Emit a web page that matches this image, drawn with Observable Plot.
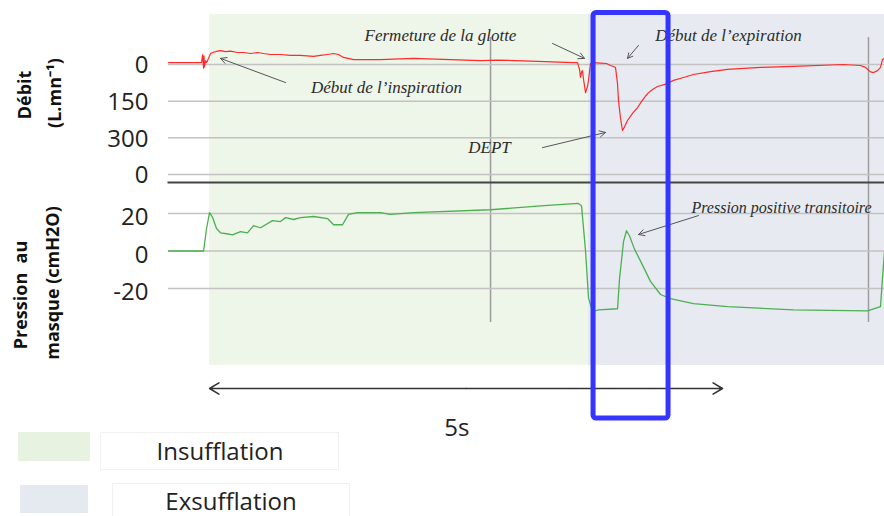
<!DOCTYPE html>
<html>
<head>
<meta charset="utf-8">
<script src="https://cdn.jsdelivr.net/npm/d3@7"></script>
<script src="https://cdn.jsdelivr.net/npm/@observablehq/plot@0.6"></script>
<style>
  body { margin: 0; background: #fff; }
  #fig { position: relative; width: 884px; height: 516px; overflow: hidden; font-family: "Open Sans", sans-serif; background: #fff; }
  #fig svg { position: absolute; left: 0; top: 0; background: transparent; }
  .ylab { position: absolute; font-weight: bold; font-size: 18px; white-space: pre; line-height: 1; color: #111;
          transform: translate(-50%, -50%) rotate(-90deg); }
  .sw { position: absolute; }
  .box { position: absolute; border: 1px solid #f1f1f1; }
  .lt { position: absolute; font-size: 24px; line-height: 1; color: #222; white-space: nowrap; transform: translate(-50%, -50%); }
</style>
</head>
<body>
<div id="fig"></div>
<script>
// ---------- data ----------
// time in seconds (0 = start of insufflation)
const phaseNames  = ["Insufflation", "Exsufflation"];
const phaseStart  = [0, 3.69];
const phaseEnd    = [3.69, 6.62];
const phaseColors = ["#eef5e9", "#e7ebf1"];

// flow (L/min, expiratory flow plotted downward)
const flowT = [-0.40, -0.078, -0.068, -0.058, -0.054, -0.049, -0.039, -0.029, -0.010, 0.010, 0.039, 0.078, 0.107, 0.156,
  0.205, 0.263, 0.331, 0.400, 0.468, 0.526, 0.595, 0.692, 0.789, 0.887, 1.014, 1.082, 1.150, 1.209, 1.257, 1.306,
  1.404, 1.667, 1.988, 2.349, 2.641, 2.807, 3.129, 3.548, 3.587, 3.606, 3.616, 3.626, 3.635, 3.645, 3.665, 3.684,
  3.694, 3.713, 3.743, 3.811, 3.869, 3.908, 3.938, 3.957, 3.977, 3.986, 4.006, 4.025, 4.045, 4.074, 4.123, 4.172,
  4.220, 4.269, 4.318, 4.366, 4.464, 4.522, 4.620, 4.717, 4.883, 5.049, 5.370, 5.692, 6.179, 6.345, 6.394, 6.443,
  6.472, 6.511, 6.540, 6.559, 6.579];
const flowV = [-8, -8, -40, 15, -35, 10, -15, -8, -25, -45, -50, -55, -57, -53,
  -55, -50, -49, -45, -49, -45, -41, -41, -37, -37, -33, -37, -41, -45, -41, -29,
  -20, -20, -25, -20, -16, -18, -14, -8, -8, 20, 53, 30, 25, 60, 115, 90,
  65, -4, -8, -6, -4, 4, 8, 12, 80, 147, 220, 270, 255, 229, 200, 176,
  146, 119, 102, 90, 78, 65, 53, 41, 29, 20, 12, 8, 0, 4, 12, 30,
  33, 25, 12, -20, -25];

// mask pressure (cmH2O)
const pressT = [-0.40, -0.058, -0.029, 0.000, 0.029, 0.068, 0.107, 0.166, 0.224, 0.302, 0.370, 0.429, 0.497, 0.614,
  0.692, 0.741, 0.819, 0.887, 1.014, 1.150, 1.209, 1.296, 1.355, 1.442, 1.667, 1.764, 1.988, 2.739, 3.294, 3.596,
  3.626, 3.665, 3.694, 3.733, 3.791, 3.977, 3.996, 4.035, 4.064, 4.094, 4.142, 4.201, 4.298, 4.396, 4.493, 4.717,
  5.049, 5.692, 6.413, 6.540, 6.559, 6.579];
const pressV = [0, 0, 12, 20.5, 18, 12, 9.7, 9.2, 8.6, 10.3, 9.7, 13.5, 12.4, 16.2,
  15.7, 17.8, 16.8, 17.8, 18.4, 17.3, 14.0, 14.0, 19.5, 20.5, 20.5, 19.5, 20.5, 22.0, 24.3, 25.4,
  24, 0, -25, -32.4, -31.4, -30.8, -15, 5, 10.8, 8, 1, -5.4, -16.2, -23.2, -25.4, -28.1,
  -29.7, -31.4, -31.9, -29.7, -15, 0];

// axes
const flowTicks = [0, 150, 300, 450];
const flowTickLabels = ["0", "150", "300", "0"];
const pressTicks = [-20, 0, 20];
const pressTickLabels = ["-20", "0", "20"];
const timeGridTicks = [2.739, 6.423];

// annotations (flow panel)
const flowNoteText = ["Fermeture de la glotte", "Début de l’inspiration", "Début de l’expiration", "DEPT"];
const flowNoteT = [2.251, 1.725, 5.058, 2.729];
const flowNoteV = [-119, 94, -119, 340];
const flowArrowT1 = [3.343, 0.741, 4.181, 3.246];
const flowArrowV1 = [-86, 74, -78, 340];
const flowArrowT2 = [3.655, 0.107, 4.074, 3.860];
const flowArrowV2 = [-25, -25, -25, 278];

// annotation (pressure panel)
const pressNoteText = ["Pression positive transitoire"];
const pressNoteT = [5.575];
const pressNoteV = [23.2];
const pressArrowT1 = [4.766], pressArrowV1 = [18.9];
const pressArrowT2 = [4.181], pressArrowV2 = [8.8];

// highlighted window and time bar
const highlightStart = [3.743];
const highlightEnd = [4.474];
const spanStart = 0, spanEnd = 5, spanMid = 2.5, spanLabelT = 2.41;
const spanLabel = "5s";

// ---------- build ----------
const W = 884, H = 516;
const X = {domain: [-0.4, 6.579], range: [168, 884], axis: null};
const base = {width: W, height: H, marginLeft: 168, marginRight: 0, style: {background: "transparent", fontFamily: "Open Sans"}};

const phases = phaseNames.map((n, i) => ({n, a: phaseStart[i], b: phaseEnd[i], c: phaseColors[i]}));
const flowData = flowT.map((t, i) => ({t, v: flowV[i]}));
const pressData = pressT.map((t, i) => ({t, v: pressV[i]}));
const flowNotes = flowNoteText.map((s, i) => ({s, t: flowNoteT[i], v: flowNoteV[i]}));
const flowArrows = flowArrowT1.map((t, i) => ({t1: t, v1: flowArrowV1[i], t2: flowArrowT2[i], v2: flowArrowV2[i]}));
const pressNotes = pressNoteText.map((s, i) => ({s, t: pressNoteT[i], v: pressNoteV[i]}));
const pressArrows = pressArrowT1.map((t, i) => ({t1: t, v1: pressArrowV1[i], t2: pressArrowT2[i], v2: pressArrowV2[i]}));
const highlight = highlightStart.map((a, i) => ({a, b: highlightEnd[i]}));

const noteFont = {fontFamily: "Liberation Serif", fontStyle: "italic", fill: "#2b2b2b"};

const layers = [];

// background phases
layers.push(Plot.plot({...base, marginTop: 14, marginBottom: 151, x: X,
  marks: phases.map(p => Plot.rect([p], {x1: "a", x2: "b", fill: p.c}))
}));

// vertical time grid
layers.push(Plot.plot({...base, marginTop: 37, marginBottom: 194, x: X,
  marks: [Plot.gridX(timeGridTicks, {stroke: "#9c9c9c", strokeOpacity: 1, strokeWidth: 1.5})]
}));

// flow panel
layers.push(Plot.plot({...base, marginTop: 14, marginBottom: 342, x: X,
  y: {domain: [0, 450], range: [64, 174]},
  marks: [
    Plot.gridY(flowTicks, {stroke: "#c2c2c2", strokeOpacity: 1, strokeWidth: 1.5}),
    Plot.axisY(flowTicks, {tickSize: 0, tickPadding: 20, fontSize: 24, dy: 1, fill: "#222", label: null,
      tickFormat: d => flowTickLabels[flowTicks.indexOf(d)]}),
    Plot.line(flowData, {x: "t", y: "v", stroke: "#ff2a2a", strokeWidth: 1.2}),
    Plot.arrow(flowArrows, {x1: "t1", y1: "v1", x2: "t2", y2: "v2", stroke: "#555", strokeWidth: 1, headLength: 10, headAngle: 55}),
    Plot.text(flowNotes, {x: "t", y: "v", text: "s", fontSize: 17, ...noteFont})
  ]
}));

// pressure panel
layers.push(Plot.plot({...base, marginTop: 182, marginBottom: 151, x: X,
  y: {domain: [-20, 20], range: [288, 213]},
  marks: [
    Plot.frame({anchor: "top", stroke: "#444", strokeWidth: 2}),
    Plot.gridY(pressTicks, {stroke: "#c2c2c2", strokeOpacity: 1, strokeWidth: 1.5}),
    Plot.axisY(pressTicks, {tickSize: 0, tickPadding: 20, fontSize: 24, dy: 4, fill: "#222", label: null,
      tickFormat: d => pressTickLabels[pressTicks.indexOf(d)]}),
    Plot.line(pressData, {x: "t", y: "v", stroke: "#4caf50", strokeWidth: 1.3}),
    Plot.arrow(pressArrows, {x1: "t1", y1: "v1", x2: "t2", y2: "v2", stroke: "#555", strokeWidth: 1, headLength: 10, headAngle: 55}),
    Plot.text(pressNotes, {x: "t", y: "v", text: "s", fontSize: 16, ...noteFont})
  ]
}));

// time bar
layers.push(Plot.plot({...base, marginTop: 380, marginBottom: 80, x: X,
  y: {domain: [0, 1], range: [388, 428], axis: null},
  marks: [
    Plot.arrow([{a: spanMid, b: spanStart}, {a: spanMid, b: spanEnd}], {x1: "a", x2: "b", y1: () => 0, y2: () => 0,
      stroke: "#333", strokeWidth: 1.5, headLength: 11, headAngle: 62}),
    Plot.text([spanLabel], {x: () => spanLabelT, y: () => 1, text: d => d, fontSize: 24, fill: "#222"})
  ]
}));

// highlight box
layers.push(Plot.plot({...base, marginTop: 12.5, marginBottom: 98, x: X,
  marks: [Plot.rect(highlight, {x1: "a", x2: "b", fill: "none", stroke: "#3535ff", strokeWidth: 5, rx: 3})]
}));

const fig = document.getElementById("fig");
layers.forEach(l => fig.appendChild(l));

// y-axis titles and legend (HTML)
const yTitles = [
  {s: "Débit", x: 24, y: 95},
  {s: "(L.mn⁻¹)", x: 54, y: 93},
  {s: "Pression  au", x: 20, y: 295},
  {s: "masque (cmH2O)", x: 52, y: 283}
];
yTitles.forEach(d => {
  const e = document.createElement("div");
  e.className = "ylab"; e.textContent = d.s;
  e.style.left = d.x + "px"; e.style.top = d.y + "px";
  fig.appendChild(e);
});

const legendSw = [{x: 18, y: 432, w: 72, h: 29}, {x: 20, y: 485, w: 68, h: 28}];
const legendColors = ["#e8f2e1", "#e5e9f0"];
const legendText = [{x: 220, y: 451, bx: 100, by: 432, bw: 237, bh: 36}, {x: 231, y: 501, bx: 112, by: 483, bw: 236, bh: 36}];
phaseNames.forEach((n, i) => {
  const b = document.createElement("div");
  b.className = "box";
  Object.assign(b.style, {left: legendText[i].bx + "px", top: legendText[i].by + "px", width: legendText[i].bw + "px", height: legendText[i].bh + "px"});
  fig.appendChild(b);
  const s = document.createElement("div");
  s.className = "sw";
  Object.assign(s.style, {left: legendSw[i].x + "px", top: legendSw[i].y + "px", width: legendSw[i].w + "px", height: legendSw[i].h + "px", background: legendColors[i]});
  fig.appendChild(s);
  const t = document.createElement("div");
  t.className = "lt"; t.textContent = n;
  t.style.left = legendText[i].x + "px"; t.style.top = legendText[i].y + "px";
  fig.appendChild(t);
});
</script>
</body>
</html>
